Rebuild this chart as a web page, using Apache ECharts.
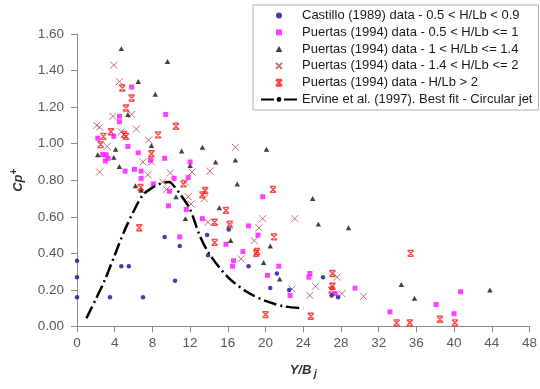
<!DOCTYPE html>
<html>
<head>
<meta charset="utf-8">
<script src="https://cdn.jsdelivr.net/npm/echarts@6/dist/echarts.min.js"></script>
<style>html,body{margin:0;padding:0;background:#fff;}#c{width:540px;height:389px;}</style>
</head>
<body>
<div id="c"></div>
<script>
// ---- data ----
const seriesNames = [
  'Castillo (1989) data - 0.5 < H/Lb < 0.9',
  'Puertas (1994) data - 0.5 < H/Lb <= 1',
  'Puertas (1994) data - 1 < H/Lb <= 1.4',
  'Puertas (1994) data - 1.4 < H/Lb <= 2',
  'Puertas (1994) data - H/Lb > 2',
  'Ervine et al. (1997). Best fit - Circular jet'
];
const castillo = [[0,0.36],[0,0.27],[0,0.16],[3.5,0.16],[4.7,0.33],[5.5,0.33],[7.0,0.16],[9.3,0.49],[10.4,0.25],[10.9,0.44],[13.8,0.50],[13.9,0.39],[16.1,0.53],[18.2,0.33],[20.5,0.21],[21.2,0.29],[22.5,0.20],[26.1,0.27],[27.0,0.17],[27.7,0.16]];
const puertasA = [[2.2,1.03],[3.9,1.04],[4.5,1.15],[4.5,1.12],[5.8,1.31],[5.4,0.985],[9.4,1.16],[6.5,0.95],[2.7,0.94],[3.1,0.94],[3.3,0.92],[3.0,0.905],[7.8,0.91],[9.3,0.92],[12.0,0.90],[5.1,0.85],[6.1,0.86],[6.8,0.85],[6.8,0.81],[8.1,0.78],[10.3,0.81],[11.8,0.815],[9.8,0.74],[9.7,0.66],[11.6,0.64],[13.3,0.59],[10.9,0.49],[18.2,0.55],[19.7,0.71],[19.2,0.50],[15.8,0.45],[17.6,0.41],[16.6,0.36],[16.5,0.33],[21.4,0.33],[20.2,0.28],[22.6,0.17],[24.7,0.29],[24.6,0.27],[27.4,0.18],[29.5,0.21],[33.2,0.08],[38.1,0.12],[40.0,0.07],[40.7,0.19]];
const puertasB = [[4.7,1.52],[9.6,1.45],[6.5,1.34],[8.3,1.27],[5.4,1.16],[7.9,0.99],[4.1,0.97],[2.2,0.94],[3.9,0.925],[11.1,0.96],[4.5,0.875],[12.0,0.88],[6.2,0.77],[6.8,0.745],[10.5,0.71],[11.5,0.59],[13.3,0.98],[14.7,0.90],[16.8,0.91],[17.0,0.78],[15.1,0.65],[20.1,0.97],[25.0,0.70],[25.6,0.56],[16.3,0.47],[20.5,0.44],[19.8,0.35],[21.5,0.26],[28.8,0.54],[34.4,0.23],[35.8,0.155],[43.8,0.20]];
const puertasC = [[3.9,1.43],[4.5,1.34],[3.8,1.15],[5.8,1.16],[2.1,1.10],[2.4,1.09],[6.3,1.08],[4.7,1.065],[7.6,1.02],[3.2,0.985],[2.4,0.845],[7.0,0.90],[7.9,0.90],[7.5,0.83],[9.9,0.84],[9.1,0.79],[9.5,0.75],[12.2,0.845],[11.5,0.79],[11.8,0.71],[12.1,0.67],[14.1,0.85],[16.8,0.98],[13.5,0.70],[19.7,0.59],[23.1,0.59],[13.9,0.57],[16.2,0.55],[19.3,0.54],[18.8,0.47],[17.4,0.37],[22.8,0.205],[24.7,0.17],[25.3,0.22],[27.6,0.27],[28.1,0.18],[30.4,0.165]];
const puertasD = [[4.8,1.305],[5.8,1.25],[5.2,1.195],[3.6,1.065],[2.8,1.04],[5.0,1.05],[5.2,1.04],[8.6,1.048],[2.5,0.995],[10.5,1.095],[7.9,0.945],[6.75,0.76],[6.6,0.54],[11.3,0.78],[13.6,0.744],[13.3,0.72],[15.8,0.635],[14.6,0.57],[16.2,0.56],[20.8,0.75],[20.9,0.49],[14.6,0.46],[19.1,0.41],[19.0,0.40],[27.1,0.29],[27.1,0.22],[27.0,0.20],[20.0,0.065],[24.8,0.056],[35.4,0.40],[33.9,0.02],[35.3,0.02],[38.5,0.04],[40.1,0.02]];
const ervine = [[1.0,0.045],[2.0,0.15],[3.0,0.26],[4.0,0.39],[5.0,0.52],[6.0,0.63],[7.0,0.72],[8.0,0.76],[9.0,0.785],[9.7,0.79],[10.0,0.785],[11.0,0.72],[12.0,0.64],[13.0,0.50],[14.0,0.40],[16.0,0.27],[18.0,0.19],[20.0,0.14],[22.0,0.11],[24.0,0.10]];
const xMin = 0, xMax = 48, xStep = 4;
const yMin = 0, yMax = 1.6, yStep = 0.2;

const chart = echarts.init(document.getElementById('c'), null, {renderer: 'canvas'});
const rectPath = 'path://M0,0L10,0L10,10L0,10Z';
const triPath = 'path://M5,0L10,9L0,9Z';
const xPath = 'path://M0,0L10,10M10,0L0,10';
const starPath = 'path://M0,0L10,10M10,0L0,10M0,0L10,0M0,10L10,10';
const lblColor = '#595959';
const axisCol = '#8c8c8c';
const option = {
  animation: false,
  backgroundColor: '#fff',
  grid: {left: 77, right: 10, top: 34, bottom: 62.5, containLabel: false},
  legend: {
    orient: 'vertical', left: 253, top: 5,
    padding: [3, 6, 3, 7],
    itemWidth: 36, itemHeight: 6, itemGap: 1.8,
    symbolKeepAspect: true,
    borderColor: '#b0b0b0', borderWidth: 1, backgroundColor: '#fff',
    textStyle: {fontFamily: 'Liberation Sans, Arial', fontSize: 13, color: '#1a1a1a', lineHeight: 15},
    data: seriesNames
  },
  xAxis: {
    type: 'value', min: xMin, max: xMax, interval: xStep,
    name: '{n|Y/B}{s| j}', nameLocation: 'middle', nameGap: 37,
    nameTextStyle: {rich: {
      n: {fontFamily: 'Liberation Sans, Arial', fontSize: 13, fontWeight: 'bold', fontStyle: 'italic', color: '#333', lineHeight: 16, verticalAlign: 'top'},
      s: {fontFamily: 'Liberation Sans, Arial', fontSize: 10, fontWeight: 'bold', fontStyle: 'italic', color: '#333', lineHeight: 12, padding: [8, 0, 0, 0], verticalAlign: 'bottom'}
    }},
    axisLine: {lineStyle: {color: axisCol}},
    axisTick: {inside: false, length: 6, lineStyle: {color: axisCol}},
    axisLabel: {margin: 10, color: lblColor, fontFamily: 'Liberation Sans, Arial', fontSize: 13.5},
    splitLine: {show: false}
  },
  yAxis: {
    type: 'value', min: yMin, max: yMax, interval: yStep,
    name: '{c|Cp}{p|+}', nameLocation: 'middle', nameGap: 52, nameRotate: 90,
    nameTextStyle: {rich: {
      c: {fontFamily: 'Liberation Sans, Arial', fontSize: 13, fontWeight: 'bold', fontStyle: 'italic', color: '#333', lineHeight: 16, verticalAlign: 'bottom'},
      p: {fontFamily: 'Liberation Sans, Arial', fontSize: 10, fontWeight: 'bold', color: '#333', lineHeight: 12, padding: [0, 0, 8, 0], verticalAlign: 'top'}
    }},
    axisLine: {show: true, lineStyle: {color: axisCol}},
    axisTick: {show: true, inside: false, length: 6, lineStyle: {color: axisCol}},
    axisLabel: {margin: 13, color: lblColor, fontFamily: 'Liberation Sans, Arial', fontSize: 13.5,
      formatter: v => v.toFixed(2)},
    splitLine: {show: false}
  },
  series: [
    {name: seriesNames[0], type: 'scatter', data: castillo, symbol: 'circle', symbolSize: 4.5, symbolKeepAspect: true,
      itemStyle: {color: '#10109a'}, z: 6},
    {name: seriesNames[1], type: 'scatter', data: puertasA, symbol: rectPath, symbolSize: 5, symbolKeepAspect: true,
      itemStyle: {color: '#ff10ff'}, z: 5},
    {name: seriesNames[2], type: 'scatter', data: puertasB, symbol: triPath, symbolSize: 5.5, symbolKeepAspect: true,
      itemStyle: {color: '#111'}, z: 5},
    {name: seriesNames[3], type: 'scatter', data: puertasC, symbol: xPath, symbolSize: 7, symbolKeepAspect: true,
      itemStyle: {color: '#b8484c', borderColor: '#b8484c', borderWidth: 1}, z: 4},
    {name: seriesNames[4], type: 'scatter', data: puertasD, symbol: starPath, symbolSize: 6, symbolKeepAspect: true,
      itemStyle: {color: '#ff1a1a', borderColor: '#ff1a1a', borderWidth: 1.4}, z: 4},
    {name: seriesNames[5], type: 'line', data: ervine, symbol: 'none', smooth: 0.3,
      itemStyle: {color: '#000'},
      lineStyle: {color: '#000', width: 2.5, type: [13, 4, 2, 4]}, z: 7}
  ]
};
chart.setOption(option);
</script>
</body>
</html>
